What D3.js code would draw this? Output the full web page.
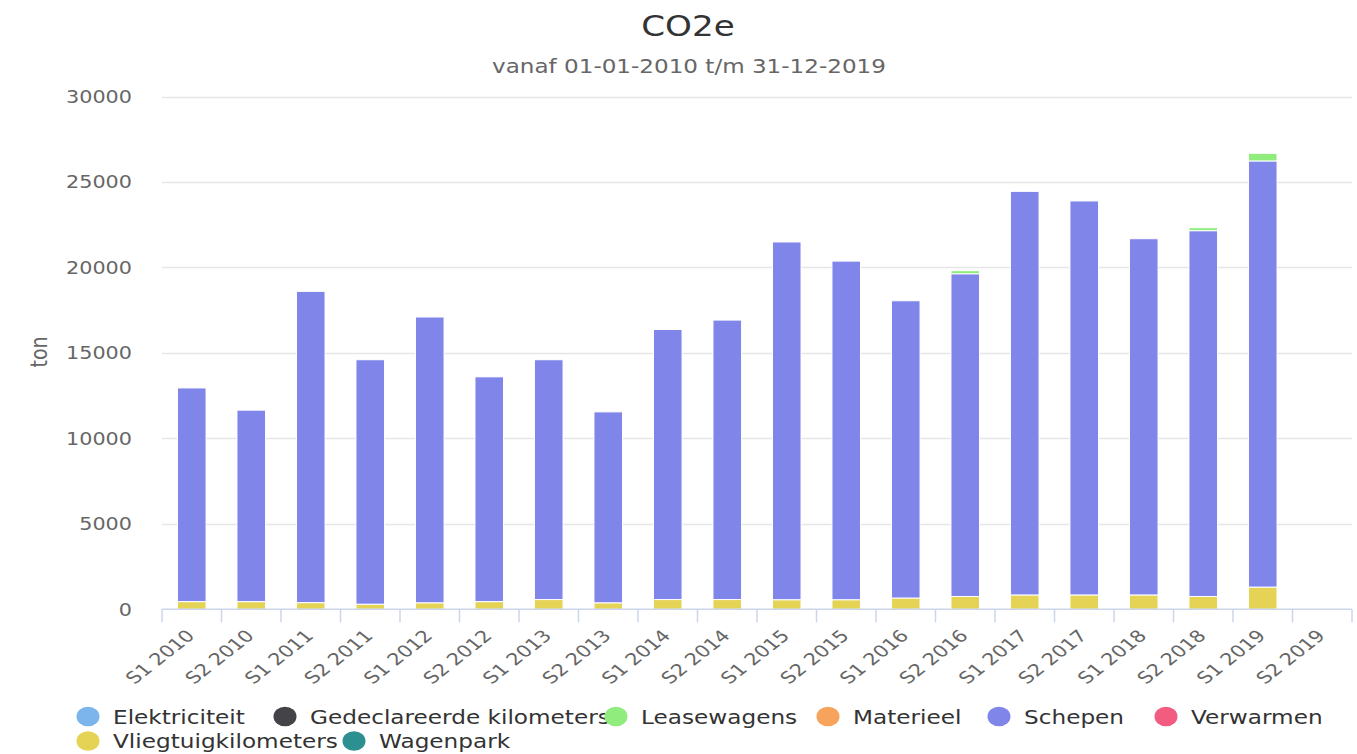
<!DOCTYPE html>
<html>
<head>
<meta charset="utf-8">
<script src="https://cdn.jsdelivr.net/npm/d3@7"></script>
<style>
  html, body { margin: 0; padding: 0; background: #ffffff; }
  svg { display: block; font-family: "DejaVu Sans", sans-serif; }
</style>
</head>
<body>
<svg id="chart" width="1357" height="754"></svg>
<script>
// ---------- data ----------
const categories = ["S1 2010","S2 2010","S1 2011","S2 2011","S1 2012","S2 2012","S1 2013","S2 2013","S1 2014","S2 2014",
                    "S1 2015","S2 2015","S1 2016","S2 2016","S1 2017","S2 2017","S1 2018","S2 2018","S1 2019","S2 2019"];
const seriesNames = ["Elektriciteit","Gedeclareerde kilometers","Leasewagens","Materieel","Schepen","Verwarmen","Vliegtuigkilometers","Wagenpark"];
const elektriciteit = [0,0,0,0,0,0,0,0,0,0,0,0,0,0,0,0,0,0,0,0];
const gedeclareerdeKilometers = [0,0,0,0,0,0,0,0,0,0,0,0,0,0,0,0,0,0,0,0];
const leasewagens = [0,0,0,0,0,0,0,0,0,0,0,0,0,180,0,0,0,175,445,0];
const materieel = [0,0,0,0,0,0,0,0,0,0,0,0,0,0,0,0,0,0,0,0];
const schepen = [12500,11200,18210,14300,16720,13150,14030,11170,15800,16350,20930,19810,17390,18880,23610,23050,20840,21400,24930,0];
const verwarmen = [0,0,0,0,0,0,0,0,0,0,0,0,0,0,0,0,0,0,0,0];
const vliegtuigkilometers = [450,450,390,300,380,450,570,380,570,570,560,560,660,750,840,840,840,750,1300,0];
const wagenpark = [0,0,0,0,0,0,0,0,0,0,0,0,0,0,0,0,0,0,0,0];
const yTicks = [0,5000,10000,15000,20000,25000,30000];
const titleText = "CO2e";
const subtitleText = "vanaf 01-01-2010 t/m 31-12-2019";
const yAxisTitle = "ton";

// ---------- styling ----------
const colors = ["#7cb5ec","#434348","#90ed7d","#f7a35c","#8085e9","#f15c80","#e4d354","#2b908f"];
const S = 1.22; // horizontal text stretch of the reference picture
const values = [elektriciteit, gedeclareerdeKilometers, leasewagens, materieel, schepen, verwarmen, vliegtuigkilometers, wagenpark];

const table = categories.map((c, i) => {
  const row = { cat: c };
  seriesNames.forEach((s, k) => row[s] = values[k][i]);
  return row;
});

const svg = d3.select("#chart");
svg.append("rect").attr("width",1357).attr("height",754).attr("fill","#ffffff");

const plotLeft = 162, plotRight = 1352, plotTop = 96.5, plotBottom = 609.3;
const x = d3.scaleBand().domain(categories).range([plotLeft, plotRight]).paddingInner(0).paddingOuter(0);
const y = d3.scaleLinear().domain([0, 30000]).range([plotBottom, plotTop]);

function stretchedText(g, px, py, str, opts) {
  const s = opts.stretch || S;
  const t = g.append("text")
    .attr("transform", `translate(${px},${py}) scale(${s},1)` + (opts.rotate ? ` rotate(${opts.rotate})` : ""))
    .attr("text-anchor", opts.anchor || "start")
    .attr("font-size", opts.size)
    .attr("fill", opts.fill)
    .text(str);
  return t;
}

// title & subtitle
stretchedText(svg, 688, 36, titleText, {anchor:"middle", size:28, fill:"#333333"});
stretchedText(svg, 689, 72.5, subtitleText, {anchor:"middle", size:18.9, fill:"#666666"});

// gridlines + y labels
const gy = svg.append("g");
yTicks.forEach(v => {
  if (v !== 0) {
    gy.append("line").attr("x1", plotLeft).attr("x2", plotRight)
      .attr("y1", Math.round(y(v)) + 0.5).attr("y2", Math.round(y(v)) + 0.5)
      .attr("stroke", "#e6e6e6").attr("stroke-width", 1.3);
  }
  stretchedText(gy, 132, y(v) + 6.5, String(v), {anchor:"end", size:17, fill:"#666666"});
});

// y axis title
stretchedText(svg, 47, 352, yAxisTitle, {anchor:"middle", size:19, fill:"#666666", rotate:-90});

// stacked bars (first legend series on top, as in the reference)
const stackKeys = seriesNames.slice().reverse();
const stacked = d3.stack().keys(stackKeys)(table);
const barW = x.bandwidth() * 0.48;
const gb = svg.append("g");
stacked.forEach(layer => {
  const k = seriesNames.indexOf(layer.key);
  gb.selectAll(null).data(layer.filter(d => d[1] - d[0] > 0)).enter().append("rect")
    .attr("x", d => x(d.data.cat) + (x.bandwidth() - barW) / 2)
    .attr("y", d => y(d[1]))
    .attr("width", barW)
    .attr("height", d => y(d[0]) - y(d[1]))
    .attr("fill", colors[k])
    .attr("stroke", "#ffffff").attr("stroke-width", 1);
});

// x axis line + ticks + labels
const gx = svg.append("g");
gx.append("line").attr("x1", plotLeft).attr("x2", plotRight)
  .attr("y1", plotBottom).attr("y2", plotBottom).attr("stroke", "#ccd6eb").attr("stroke-width", 1.5);
const tickXs = categories.map(c => x(c)).concat([plotRight]);
tickXs.forEach(tx => {
  gx.append("line").attr("x1", tx).attr("x2", tx).attr("y1", plotBottom).attr("y2", plotBottom + 13)
    .attr("stroke", "#ccd6eb").attr("stroke-width", 1.5);
});
categories.forEach(c => {
  const cx = x(c) + x.bandwidth() / 2;
  stretchedText(gx, cx + 4, plotBottom + 27.5, c, {anchor:"end", size:16.5, fill:"#666666", rotate:-45, stretch:1.27});
});

// legend
const legendRows = [
  {y: 716.5, xs: [88, 285, 616, 828, 999, 1166], items: [0,1,2,3,4,5]},
  {y: 741, xs: [88, 354], items: [6,7]}
];
const gl = svg.append("g");
legendRows.forEach(row => {
  row.items.forEach((k, j) => {
    gl.append("ellipse").attr("cx", row.xs[j]).attr("cy", row.y).attr("rx", 11.5).attr("ry", 9.8).attr("fill", colors[k]);
    stretchedText(gl, row.xs[j] + 25, row.y + 7, seriesNames[k], {anchor:"start", size:19, fill:"#333333"});
  });
});
</script>
</body>
</html>
